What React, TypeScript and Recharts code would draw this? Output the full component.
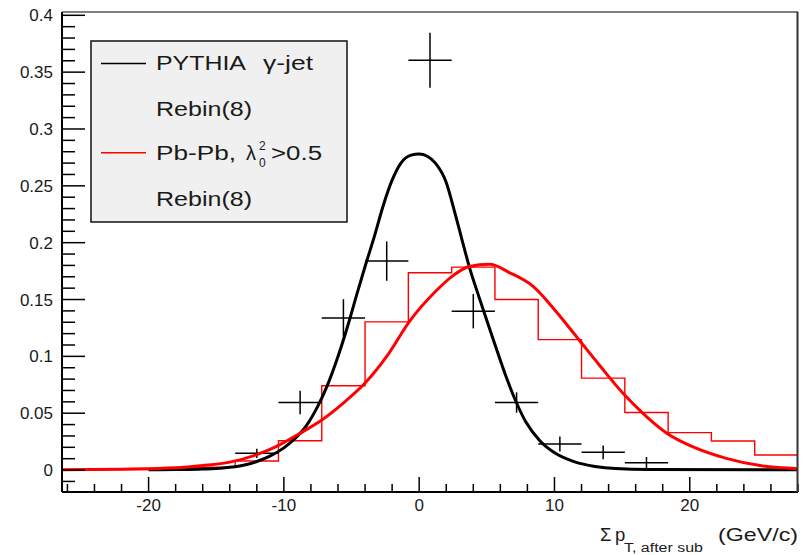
import React from 'react';
import { ComposedChart, Line, Scatter, XAxis, YAxis, ErrorBar } from 'recharts';

// ---- data ----
const binEdges = [-26.4, -23.2, -20, -16.8, -13.6, -10.4, -7.2, -4, -0.8, 2.4, 5.6, 8.8, 12, 15.2, 18.4, 21.6, 24.8, 28];
const pbpbHist = [0.0002, 0.0005, 0.001, 0.0025, 0.008, 0.0258, 0.0741, 0.1303, 0.1735, 0.1785, 0.150, 0.1147, 0.0809, 0.0506, 0.0329, 0.0256, 0.0132];

const pythiaX = [-12, -8.8, -5.6, -2.4, 0.8, 4.0, 7.2, 10.4, 13.6, 16.8];
const pythiaY = [0.0147, 0.0594, 0.1338, 0.1838, 0.3605, 0.1397, 0.0594, 0.0229, 0.0156, 0.0065];
const pythiaErr = [0.004, 0.0103, 0.0165, 0.0173, 0.0242, 0.0151, 0.009, 0.0066, 0.006, 0.005];
const binHalfWidth = 1.6;

const pythiaFitX = [-20, -18, -16, -14.5, -13, -12, -11, -10, -9.2, -8.4, -7.5, -6.8, -6.2, -5.2, -4.6, -3.95, -3.3, -2.7, -2, -1.35, -0.6, 0, 0.6, 1.2, 2, 2.6, 3.2, 3.7, 4.4, 5.1, 5.7, 6.4, 7.2, 7.9, 8.9, 10.1, 11.5, 13, 14.5, 17, 28];
const pythiaFitY = [0.0002, 0.0004, 0.0009, 0.0018, 0.0042, 0.0075, 0.0125, 0.0195, 0.0275, 0.038, 0.056, 0.074, 0.093, 0.13, 0.155, 0.181, 0.206, 0.231, 0.255, 0.27, 0.277, 0.278, 0.276, 0.27, 0.253, 0.228, 0.201, 0.179, 0.153, 0.128, 0.107, 0.083, 0.059, 0.042, 0.026, 0.0145, 0.0072, 0.0032, 0.0013, 0.0005, 0.0003];

const pbpbFitX = [-26.4, -22, -18, -16, -14, -12, -10.5, -9, -7.2, -5.5, -4, -2.4, -0.7, 1.2, 2.5, 3.7, 5.2, 6.7, 8.4, 10.1, 11.7, 13.3, 15.05, 16.8, 18.3, 20.2, 22.7, 25.4, 28];
const pbpbFitY = [0.0003, 0.0008, 0.002, 0.004, 0.007, 0.0135, 0.021, 0.031, 0.044, 0.06, 0.0765, 0.1, 0.131, 0.157, 0.171, 0.179, 0.181, 0.1735, 0.1618, 0.1397, 0.1162, 0.0926, 0.0677, 0.047, 0.0324, 0.0206, 0.0103, 0.0035, 0.0012];

const xMajorTicks = [-20, -10, 0, 10, 20];
const xMinorStep = 2;
const yMajorTicks = [0, 0.05, 0.1, 0.15, 0.2, 0.25, 0.3, 0.35, 0.4];
const yMinorStep = 0.01;

const xDomain: [number, number] = [-26.4, 28];
const yDomain: [number, number] = [-0.0193, 0.4029];

// ---- derived tables ----
const histData = binEdges.map((e, i) => ({ x: e, y: pbpbHist[Math.min(i, pbpbHist.length - 1)] }));
const pythiaPts = pythiaX.map((x, i) => ({ x, y: pythiaY[i], ex: binHalfWidth, ey: pythiaErr[i] }));
const pythiaFit = pythiaFitX.map((x, i) => ({ x, y: pythiaFitY[i] }));
const pbpbFit = pbpbFitX.map((x, i) => ({ x, y: pbpbFitY[i] }));

const xTicks: number[] = [];
for (let v = -26; v <= 28.001; v += xMinorStep) xTicks.push(Math.round(v * 100) / 100);
const yTicks: number[] = [];
for (let k = -1; k <= 40; k++) yTicks.push(Math.round(k * yMinorStep * 1000) / 1000);

// ---- layout ----
const W = 811;
const H = 555;
const PL = 62;
const PR = 798;
const PT = 12;
const PB = 492;
const FONT = '"Liberation Sans", Arial, Helvetica, sans-serif';
const TXT = '#1a1a1a';

const isXMajor = (v: number) => xMajorTicks.some((m) => Math.abs(m - v) < 1e-6);
const isYMajor = (v: number) => yMajorTicks.some((m) => Math.abs(m - v) < 1e-6);

const XTick = (props: any) => {
  const { x, payload } = props;
  const v = payload.value;
  const major = isXMajor(v);
  return (
    <g>
      <line x1={x} x2={x} y1={PB} y2={PB - (major ? 15 : 8)} stroke="#000" strokeWidth={1.5} />
      {major && (
        <text x={x} y={511} textAnchor="middle" fontSize={17} fontFamily={FONT} fill={TXT}>
          {String(v)}
        </text>
      )}
    </g>
  );
};

const YTick = (props: any) => {
  const { y, payload } = props;
  const v = payload.value;
  const major = isYMajor(v);
  return (
    <g>
      <line x1={PL} x2={PL + (major ? 23 : 13)} y1={y} y2={y} stroke="#000" strokeWidth={1.5} />
      {major && (
        <text x={53} y={y + 6} textAnchor="end" fontSize={17} fontFamily={FONT} fill={TXT}>
          {String(Number(v.toFixed(2)))}
        </text>
      )}
    </g>
  );
};

const Overlay = () => (
  <svg width={W} height={H} style={{ position: 'absolute', left: 0, top: 0, pointerEvents: 'none' }}>
    {/* frame */}
    <line x1={PL} x2={PR} y1={PT} y2={PT} stroke="#000" strokeWidth={1.2} />
    <line x1={PR - 0.5} x2={PR - 0.5} y1={PT} y2={PB} stroke="#333" strokeWidth={2} />
    {/* legend */}
    <rect x={91} y={41} width={256} height={181} fill="#f0f0f0" stroke="#111" strokeWidth={1.5} />
    <line x1={101} x2={146} y1={63.5} y2={63.5} stroke="#000" strokeWidth={1.6} />
    <line x1={101} x2={146} y1={152.7} y2={152.7} stroke="#ff0000" strokeWidth={1.6} />
    <g fontFamily={FONT} fill={TXT} fontSize={20}>
      <text x={156} y={70} textLength={90} lengthAdjust="spacingAndGlyphs">PYTHIA</text>
      <text x={263} y={70} textLength={50} lengthAdjust="spacingAndGlyphs">γ-jet</text>
      <text x={156} y={115.5} textLength={96} lengthAdjust="spacingAndGlyphs">Rebin(8)</text>
      <text x={156} y={160} textLength={80} lengthAdjust="spacingAndGlyphs">Pb-Pb,</text>
      <text x={246} y={160}>λ</text>
      <text x={259} y={150} fontSize={12}>2</text>
      <text x={259} y={167} fontSize={12}>0</text>
      <text x={271} y={160} textLength={51} lengthAdjust="spacingAndGlyphs">&gt;0.5</text>
      <text x={156} y={205.5} textLength={96} lengthAdjust="spacingAndGlyphs">Rebin(8)</text>
    </g>
    {/* x axis title */}
    <g fontFamily={FONT} fill={TXT}>
      <text x={600} y={540.5} fontSize={18.5}>Σ</text>
      <text x={615} y={540.5} fontSize={18.5}>p</text>
      <text x={624} y={552} fontSize={12} textLength={79} lengthAdjust="spacingAndGlyphs">T, after sub</text>
      <text x={718} y={540.5} fontSize={18.5} textLength={80} lengthAdjust="spacingAndGlyphs">(GeV/c)</text>
    </g>
  </svg>
);

export default function App() {
  return (
    <div style={{ position: 'absolute', left: 0, top: 0, width: W, height: H, background: '#fff' }}>
      <ComposedChart width={W} height={H} margin={{ top: PT, right: W - PR, left: 0, bottom: 0 }}>
        <XAxis
          type="number"
          dataKey="x"
          domain={xDomain}
          allowDataOverflow
          ticks={xTicks}
          interval={0}
          tick={<XTick />}
          tickLine={false}
          axisLine={{ stroke: '#000', strokeWidth: 2 }}
          height={H - PB}
        />
        <YAxis
          type="number"
          dataKey="y"
          domain={yDomain}
          allowDataOverflow
          ticks={yTicks}
          interval={0}
          tick={<YTick />}
          tickLine={false}
          axisLine={{ stroke: '#000', strokeWidth: 2 }}
          width={PL}
        />
        <Line
          data={histData}
          dataKey="y"
          type="stepAfter"
          stroke="#ff0000"
          strokeWidth={1.4}
          dot={false}
          activeDot={false}
          isAnimationActive={false}
        />
        <Line
          data={pythiaFit}
          dataKey="y"
          type="monotone"
          stroke="#000"
          strokeWidth={3}
          dot={false}
          activeDot={false}
          isAnimationActive={false}
        />
        <Scatter data={pythiaPts} dataKey="y" fill="#000" shape={() => <g />} isAnimationActive={false}>
          <ErrorBar dataKey="ex" direction="x" width={0} stroke="#000" strokeWidth={1.5} />
          <ErrorBar dataKey="ey" direction="y" width={0} stroke="#000" strokeWidth={1.5} />
        </Scatter>
        <Line
          data={pbpbFit}
          dataKey="y"
          type="monotone"
          stroke="#ff0000"
          strokeWidth={3}
          dot={false}
          activeDot={false}
          isAnimationActive={false}
        />
      </ComposedChart>
      <Overlay />
    </div>
  );
}
